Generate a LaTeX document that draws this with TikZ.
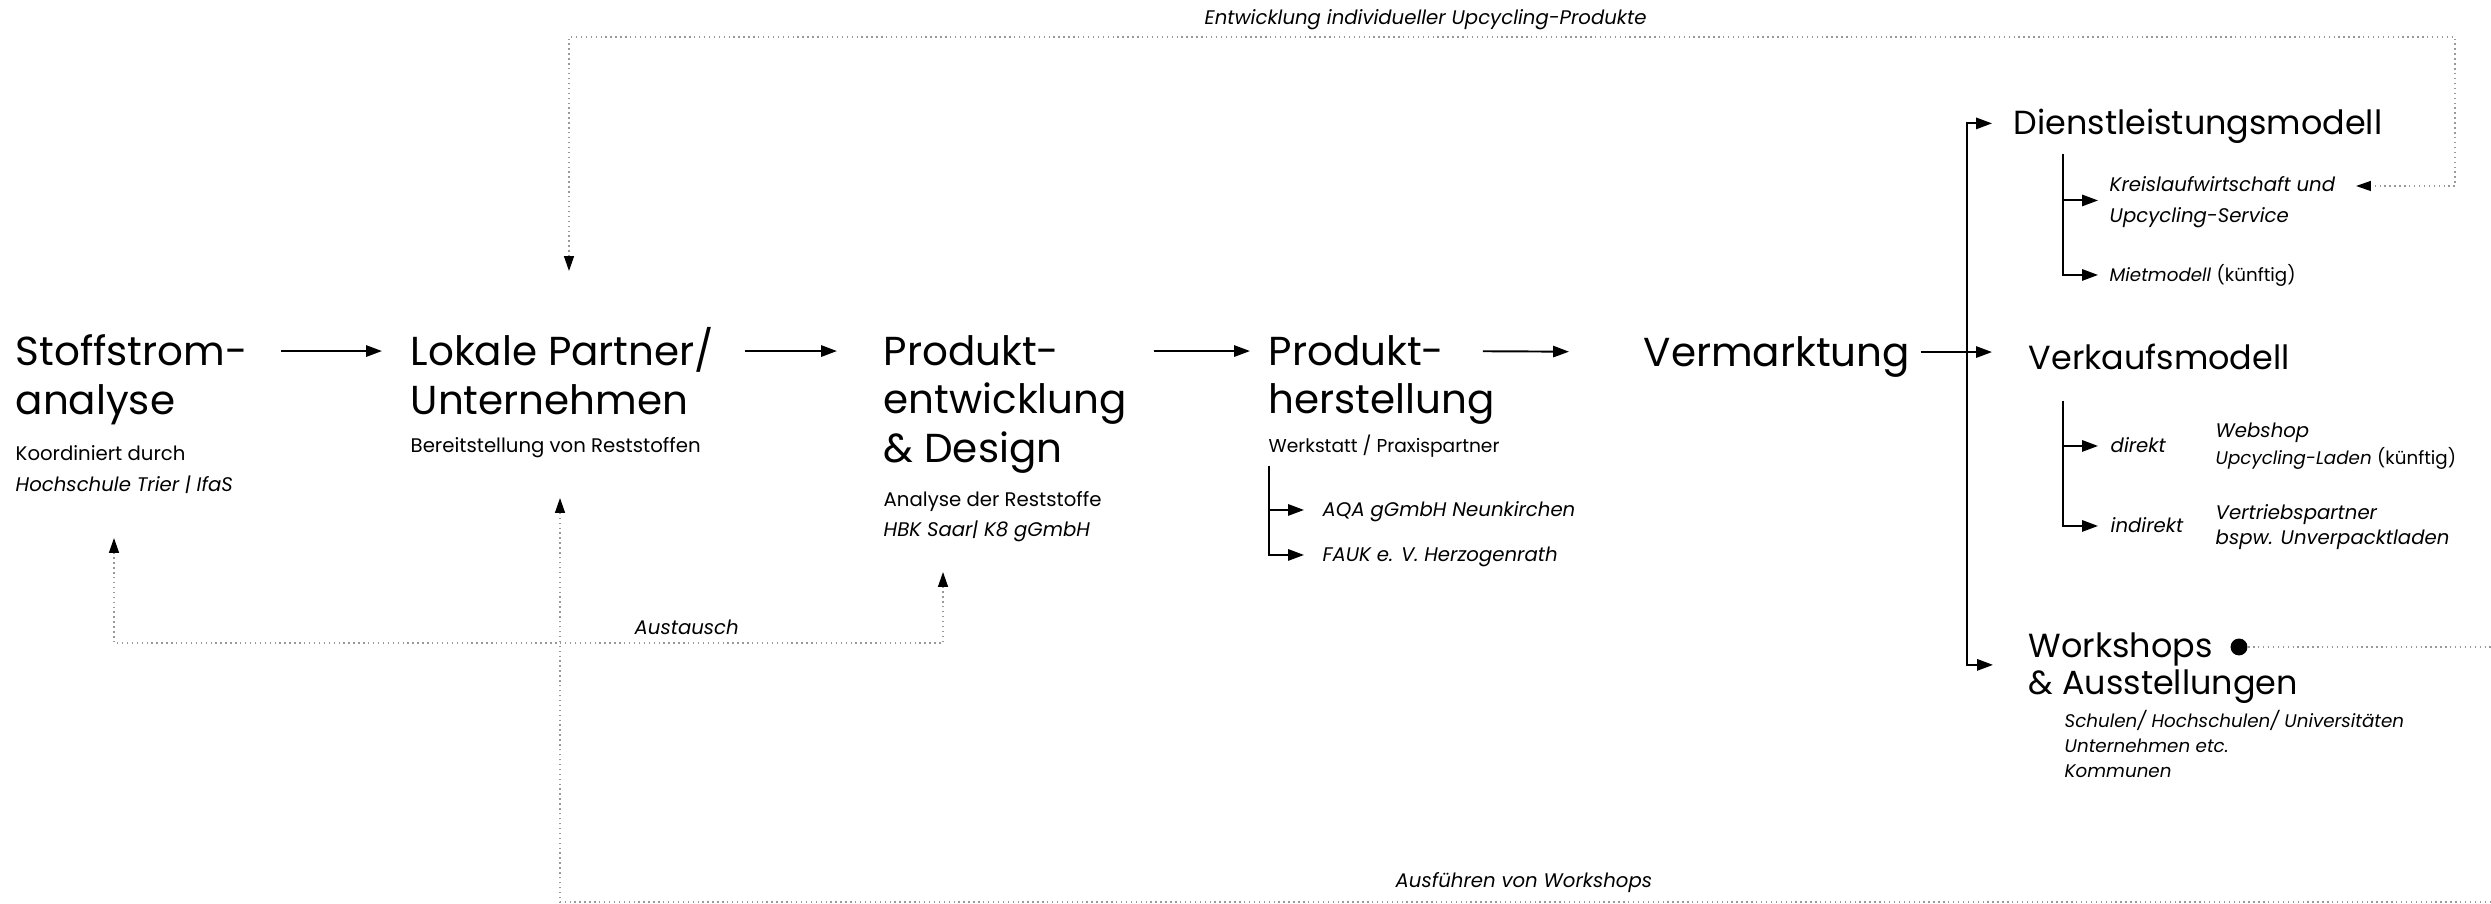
\documentclass[tikz,border=0pt]{standalone}
\usepackage{fontspec}
\setmainfont{Poppins}
\usepackage{tikz}
\usetikzlibrary{positioning}
\usetikzlibrary{calc}
\usetikzlibrary{arrows.meta}
\tikzset{dot/.style={circle, fill, inner sep=1.7pt}}
\tikzset{big/.style={anchor=base west, inner sep=0pt, text height=8.5pt, text depth=0pt, font=\fontsize{11.5}{14}\selectfont}}
\tikzset{mid/.style={anchor=base west, inner sep=0pt, text height=6.6pt, text depth=0pt, font=\fontsize{9.5}{11}\selectfont}}
\tikzset{sub/.style={anchor=base west, inner sep=0pt, text height=4pt, text depth=0pt, font=\fontsize{5.6}{7}\selectfont}}
\tikzset{note/.style={sub, font=\fontsize{5.6}{7}\selectfont\itshape}}
\tikzset{small/.style={sub, font=\fontsize{5.2}{7}\selectfont\itshape}}
\tikzset{flow/.style={-{Triangle[length=4.5pt,width=3.2pt]}, line width=0.55pt}}
\tikzset{fb/.style={densely dotted, draw=gray!80, line width=0.4pt}}
\tikzset{fbarrow/.style={fb, {Triangle[length=4.2pt,width=2.8pt,color=black]}-{Triangle[length=4.2pt,width=2.8pt,color=black]}}}
\tikzset{fbend/.style={fb, -{Triangle[length=4.2pt,width=2.8pt,color=black]}}}

\begin{document}
\begin{tikzpicture}[x=0.01cm, y=-0.01cm]
\useasboundingbox (0,0) rectangle (2491,904);
\def\rowy{366}
\def\trunk{1967}

% main row
\node[big] (stoff) at (15,\rowy) {Stoffstrom-};
\node[big] (stoffb) at (15,415) {analyse};
\node[sub] (koord) at (15,461) {Koordiniert durch};
\node[note] (hoch) at (15,492) {Hochschule Trier | IfaS};

\node[big] (lok) at (410,\rowy) {Lokale Partner/};
\node[big] (lokb) at (410,415) {Unternehmen};
\node[sub] (bereit) at (410,453) {Bereitstellung von Reststoffen};

\node[big] (prod) at (883,\rowy) {Produkt-};
\node[big] (prodb) at (883,414) {entwicklung};
\node[big] (prodc) at (883,463) {\& Design};
\node[sub] (anal) at (883,507) {Analyse der Reststoffe};
\node[note] (hbk) at (883,537) {HBK Saar| K8 gGmbH};

\node[big] (her) at (1268,\rowy) {Produkt-};
\node[big] (herb) at (1268,414) {herstellung};
\node[sub, font=\fontsize{5.3}{7}\selectfont] (werk) at (1268,453) {Werkstatt / Praxispartner};
\node[note] (aqa) at (1322,517) {AQA gGmbH Neunkirchen};
\node[note] (fauk) at (1322,562) {FAUK e. V. Herzogenrath};

\node[big] (verm) at (1643,367) {Vermarktung};

\draw[flow, shorten <=0.33cm, shorten >=0.28cm] (stoff.east) -- (lok.west);
\draw[flow, shorten <=0.30cm, shorten >=0.46cm] (lok.east) -- (prod.west);
\draw[flow, shorten <=0.26cm, shorten >=0.18cm] (prodb.east |- prod.east) -- (her.west);
\draw[flow, shorten <=0.38cm, shorten >=0.74cm] (her.east) -- (verm.west);

\coordinate (wk) at (1269,466);
\draw[flow, shorten >=0.18cm] (wk) |- (aqa.west);
\draw[flow, shorten >=0.18cm] (wk) |- (fauk.west);

% right column
\node[mid] (dienst) at (2013,135) {Dienstleistungsmodell};
\node[note] (kreis) at (2109,192) {Kreislaufwirtschaft und};
\node[note] (kreisb) at (2109,223) {Upcycling-Service};
\node[small] (miet) at (2109,282) {Mietmodell \textup{(künftig)}};

\node[mid] (verk) at (2028,370) {Verkaufsmodell};
\node[note] (direkt) at (2110,453) {direkt};
\node[note] (web) at (2215,438) {Webshop};
\node[small] (laden) at (2215,465) {Upcycling-Laden \textup{(künftig)}};
\node[note] (indirekt) at (2110,533) {indirekt};
\node[note] (vert) at (2215,520) {Vertriebspartner};
\node[note] (bspw) at (2215,545) {bspw. Unverpacktladen};

\node[mid] (work) at (2028,658) {Workshops};
\node[mid] (workb) at (2028,695) {\& Ausstellungen};
\node[dot] (wdot) at (2239,647) {};
\node[small] (schul) at (2064,728) {Schulen/ Hochschulen/ Universitäten};
\node[small] (unter) at (2064,753) {Unternehmen etc.};
\node[small] (komm) at (2064,778) {Kommunen};

\coordinate (fork) at (\trunk,352);
\draw[flow, shorten <=0.10cm, shorten >=0.36cm] (verm.east) -- (verm.east -| verk.west);
\draw[flow, shorten >=0.21cm] (fork) |- (dienst.west);
\draw[flow, shorten >=0.35cm] (fork) |- ($(work.west)!.5!(workb.west)$);

\coordinate (dk) at (2063,154);
\draw[flow, shorten >=0.11cm] (dk) |- ($(kreis.west)!.5!(kreisb.west)$);
\draw[flow, shorten >=0.11cm] (dk) |- (miet.west);
\coordinate (vk) at (2063,401);
\draw[flow, shorten >=0.12cm] (vk) |- (direkt.west);
\draw[flow, shorten >=0.12cm] (vk) |- (indirekt.west);

% dotted feedback
\coordinate (austL) at (114,538);
\coordinate (austR) at (943,572);
\coordinate (austbus) at (943,643);
\draw[fbarrow] (austL) |- (austbus) -- (austR);
\node[note] (aust) at (634,635) {Austausch};

\coordinate (entL) at (569,271);
\coordinate (entTR) at (2455,37);
\coordinate (entR) at (2356,186);
\draw[fbarrow] (entL) |- (entTR) |- (entR);
\node[note] (ent) at (1204,25) {Entwicklung individueller Upcycling-Produkte};

\coordinate (edgeA) at (2491,647);
\coordinate (edgeB) at (2491,902);
\coordinate (ausL) at (560,498);
\draw[fb] (wdot) -- (edgeA);
\draw[fbend] (edgeB) -| (ausL);
\node[note] (aus) at (1395,887) {Ausführen von Workshops};
\end{tikzpicture}
\end{document}
